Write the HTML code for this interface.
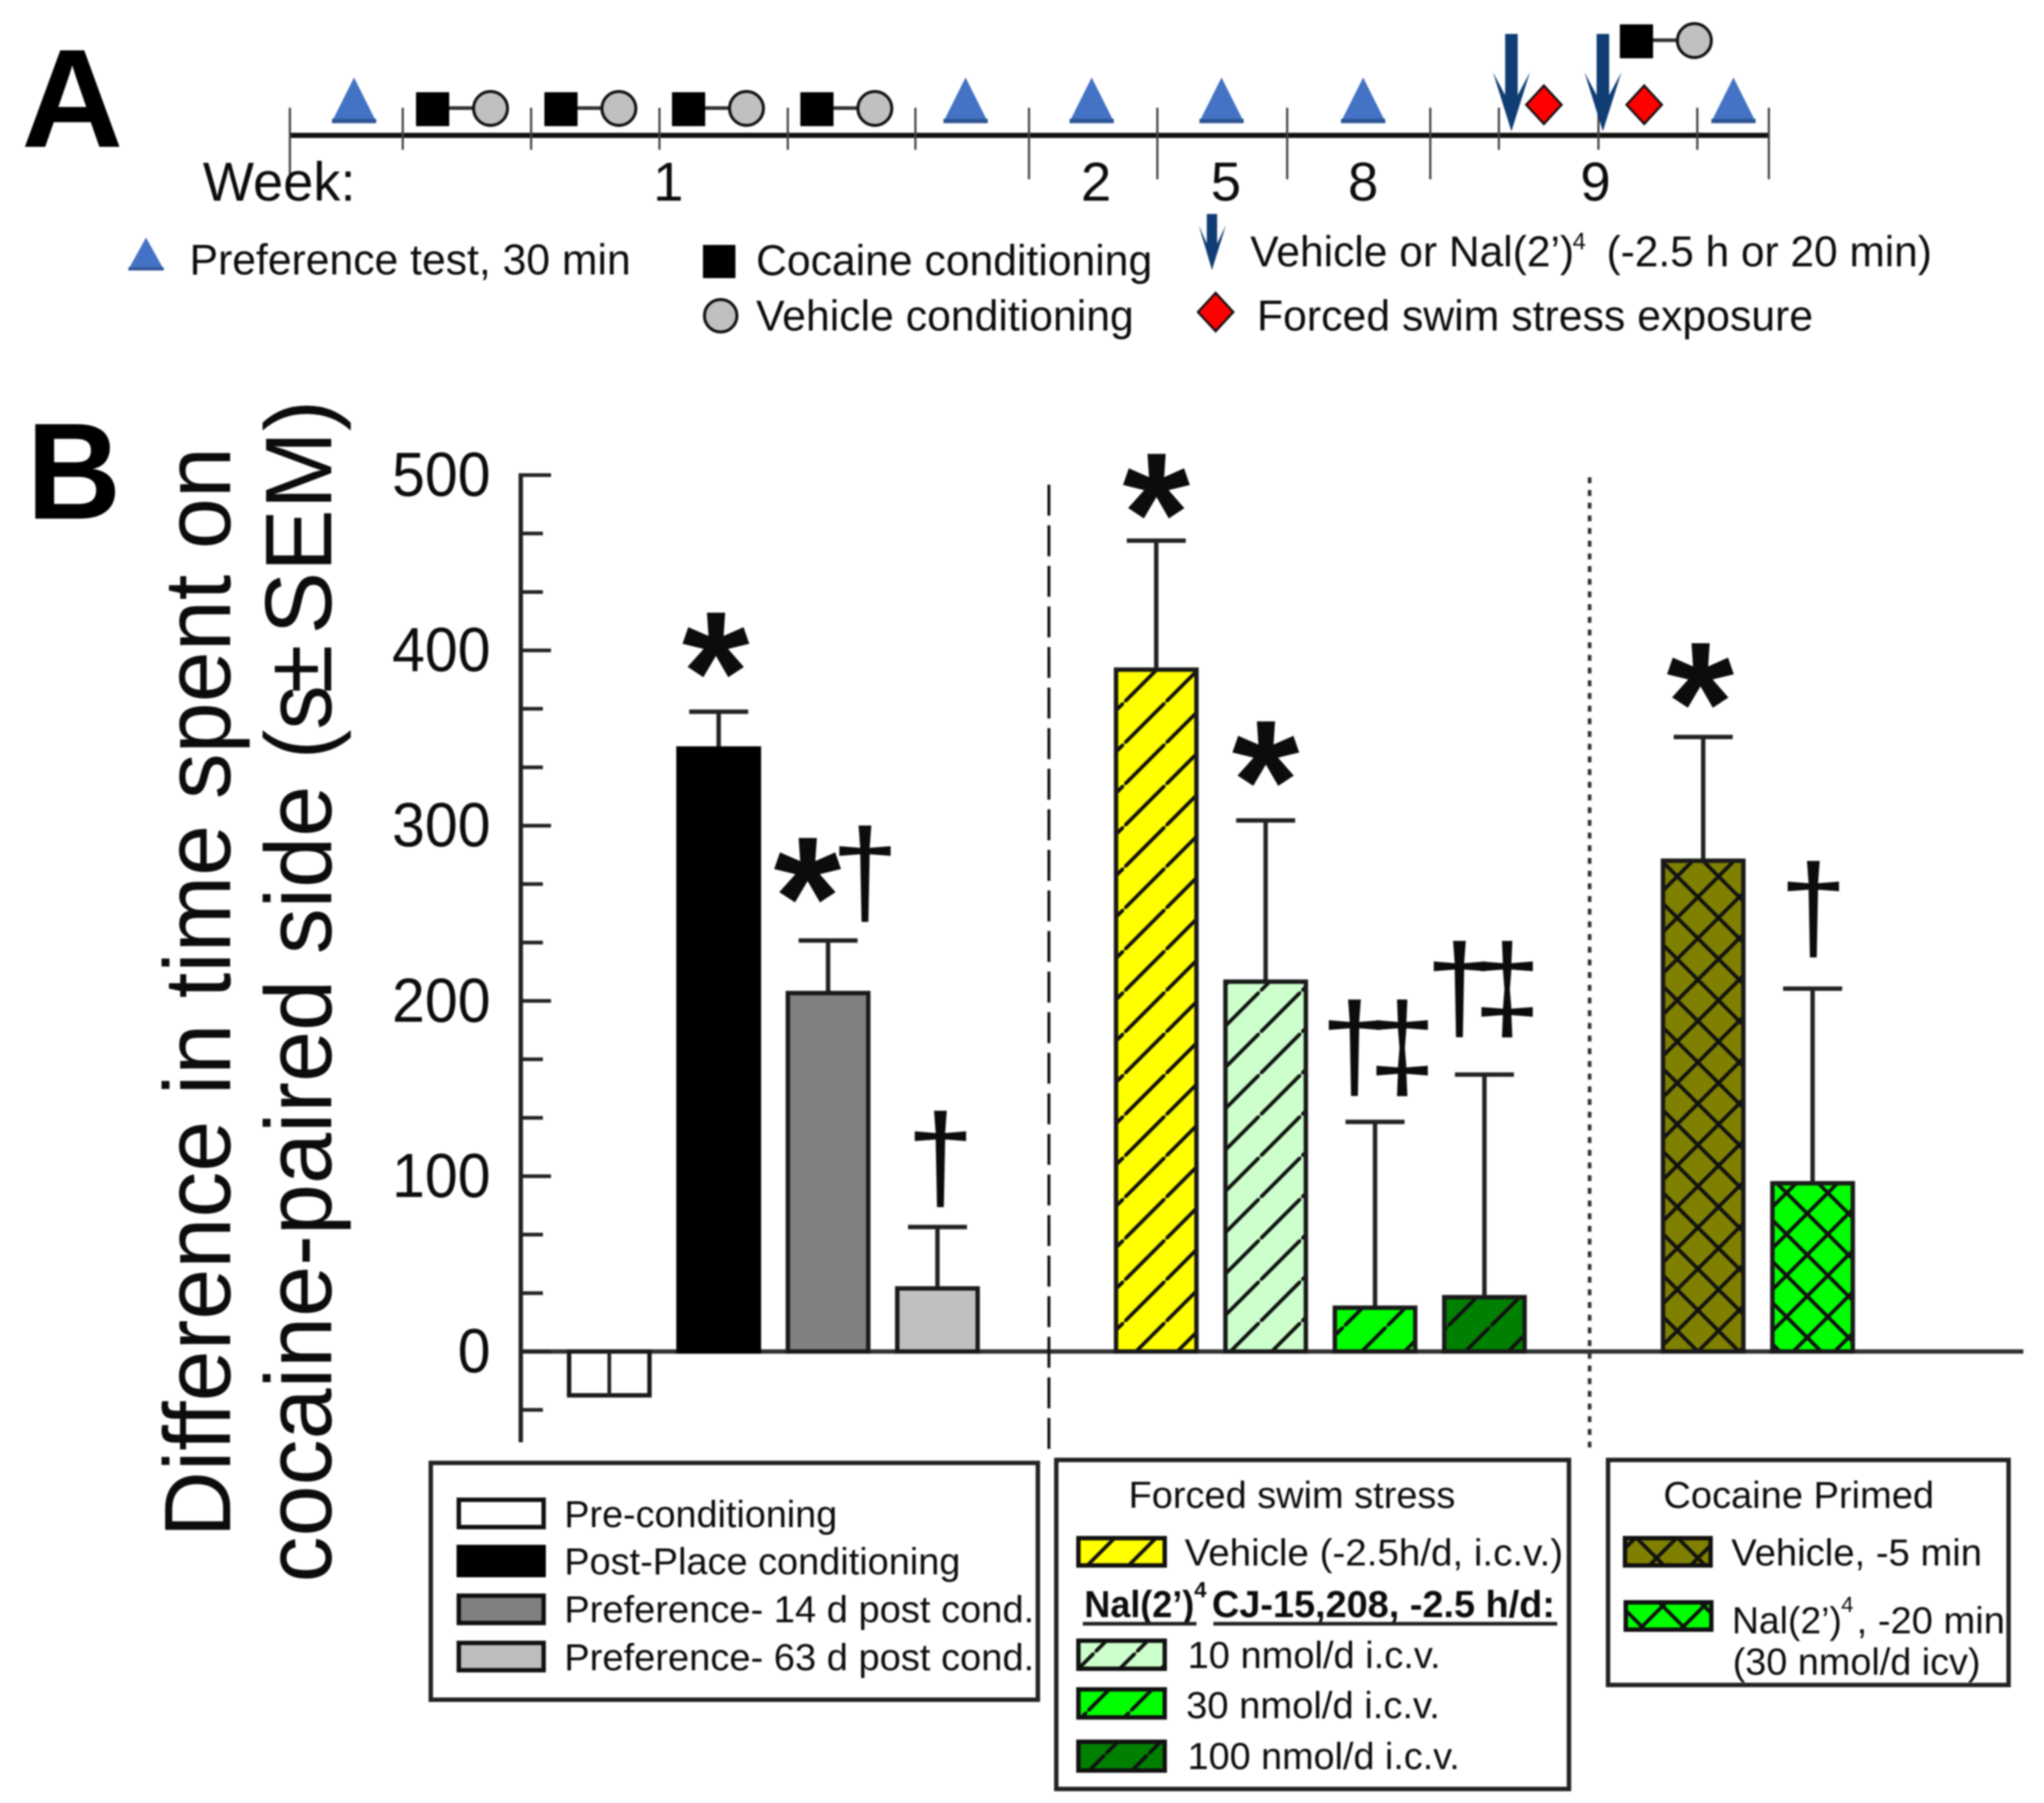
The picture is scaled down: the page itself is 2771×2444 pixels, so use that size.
<!DOCTYPE html>
<html lang="en">
<head>
<meta charset="utf-8">
<title>Cocaine place preference timeline and results</title>
<style>
html,body{margin:0;padding:0;background:#fff;width:2771px;height:2444px;overflow:hidden}
svg{display:block;filter:blur(1px)}
text{font-family:"Liberation Sans",sans-serif;fill:#0c0c0c}
</style>
</head>
<body>
<svg id="fig" xmlns="http://www.w3.org/2000/svg" width="2771" height="2444" viewBox="0 0 2771 2444">
<defs>
<pattern id="h-yellow" patternUnits="userSpaceOnUse" width="56" height="56" patternTransform="translate(12,0)"><rect width="56" height="56" fill="#FFFF00"/><path d="M-8,64L64,-8" stroke="#111" stroke-width="5"/></pattern>
<pattern id="h-light" patternUnits="userSpaceOnUse" width="56" height="56" patternTransform="translate(28,0)"><rect width="56" height="56" fill="#CCFFCC"/><path d="M-8,64L64,-8" stroke="#111" stroke-width="5"/></pattern>
<pattern id="h-green" patternUnits="userSpaceOnUse" width="58" height="58" patternTransform="translate(24,0)"><rect width="58" height="58" fill="#00FF00"/><path d="M-8,66L66,-8" stroke="#111" stroke-width="5"/></pattern>
<pattern id="h-dark" patternUnits="userSpaceOnUse" width="58" height="58" patternTransform="translate(48.5,0)"><rect width="58" height="58" fill="#008000"/><path d="M-8,66L66,-8" stroke="#111" stroke-width="5"/></pattern>
<pattern id="x-olive" patternUnits="userSpaceOnUse" width="56" height="56" patternTransform="translate(5.8,40)"><rect width="56" height="56" fill="#808000"/><path d="M-8,64L64,-8M-8,-8L64,64" stroke="#111" stroke-width="5"/></pattern>
<pattern id="x-bright" patternUnits="userSpaceOnUse" width="56" height="56" patternTransform="translate(42,21)"><rect width="56" height="56" fill="#00FF00"/><path d="M-8,64L64,-8M-8,-8L64,64" stroke="#111" stroke-width="5"/></pattern>
<g id="tri"><polygon points="0,0 30,60 -30,60" fill="#4472C4"/><rect x="-30" y="56" width="60" height="6" fill="#2F5597"/></g>
<g id="pair"><rect x="0" y="0" width="45" height="46" fill="#000"/><rect x="45" y="19" width="36" height="5" fill="#333"/><circle cx="101" cy="22" r="23" fill="#C0C0C0" stroke="#111" stroke-width="4"/></g>
<polygon id="arrow" points="-8.5,0 8.5,0 8.5,83 25,52 0,132 -25,52 -8.5,83" fill="#0F3D74"/>
<polygon id="diamond" points="0,-26 24,0 0,26 -24,0" fill="#FF0000" stroke="#111" stroke-width="3"/>
</defs>

<!-- PANEL A -->
<text x="29" y="199" font-size="190" font-weight="bold" textLength="138" lengthAdjust="spacingAndGlyphs" style="fill:#000">A</text>
<g>
<rect x="393" y="180" width="2005" height="7" fill="#111"/>
<path d="M393,146V243M1395,146V243M1569,146V243M1745,146V243M1939,146V243M2398,146V243M546,146V203M720,146V203M894,146V203M1068,146V203M1241,146V203M2032,146V203M2167,146V203M2301,146V203" stroke="#444" stroke-width="3" fill="none"/>
<use href="#tri" x="480" y="105"/>
<use href="#tri" x="1309" y="105"/>
<use href="#tri" x="1480" y="105"/>
<use href="#tri" x="1656" y="105"/>
<use href="#tri" x="1848" y="105"/>
<use href="#tri" x="2350" y="105"/>
<use href="#pair" x="564" y="125"/>
<use href="#pair" x="738" y="125"/>
<use href="#pair" x="911" y="125"/>
<use href="#pair" x="1085" y="125"/>
<use href="#pair" x="2196" y="33"/>
<use href="#arrow" x="2049" y="46"/>
<use href="#arrow" x="2173" y="46"/>
<use href="#diamond" x="2093" y="142"/>
<use href="#diamond" x="2229" y="142"/>
<text x="275" y="272" font-size="74" textLength="207" lengthAdjust="spacingAndGlyphs">Week:</text>
<text x="906" y="272" font-size="74" text-anchor="middle">1</text>
<text x="1486" y="272" font-size="74" text-anchor="middle">2</text>
<text x="1662" y="272" font-size="74" text-anchor="middle">5</text>
<text x="1848" y="272" font-size="74" text-anchor="middle">8</text>
<text x="2163" y="272" font-size="74" text-anchor="middle">9</text>
</g>
<g>
<g transform="translate(198,322) scale(.8,.72)"><use href="#tri"/></g>
<text x="257" y="372" font-size="58" textLength="598" lengthAdjust="spacingAndGlyphs">Preference test, 30 min</text>
<rect x="953" y="332" width="44" height="45" fill="#000"/>
<text x="1025" y="373" font-size="58" textLength="537" lengthAdjust="spacingAndGlyphs">Cocaine conditioning</text>
<circle cx="977" cy="428" r="22" fill="#C0C0C0" stroke="#111" stroke-width="4"/>
<text x="1025" y="448" font-size="58" textLength="512" lengthAdjust="spacingAndGlyphs">Vehicle conditioning</text>
<polygon points="1636,290 1650,290 1650,330 1662,305 1643,366 1625,305 1636,330" fill="#0F3D74"/>
<text x="1695" y="361" font-size="58" textLength="439" lengthAdjust="spacingAndGlyphs">Vehicle or Nal(2’)</text>
<text x="2132" y="338" font-size="32">4</text>
<text x="2178" y="361" font-size="58" textLength="441" lengthAdjust="spacingAndGlyphs">(-2.5 h or 20 min)</text>
<use href="#diamond" x="1648" y="423"/>
<text x="1704" y="448" font-size="58" textLength="754" lengthAdjust="spacingAndGlyphs">Forced swim stress exposure</text>
</g>

<!-- PANEL B -->
<text x="36" y="703" font-size="186" font-weight="bold" textLength="128" lengthAdjust="spacingAndGlyphs" style="fill:#000">B</text>
<text transform="translate(312,2084) rotate(-90)" font-size="128" textLength="1478" lengthAdjust="spacingAndGlyphs">Difference in time spent on</text>
<text transform="translate(449,2145) rotate(-90)" font-size="128" textLength="1080" lengthAdjust="spacingAndGlyphs">cocaine-paired side</text>
<text transform="translate(449,1029) rotate(-90)" font-size="128" textLength="100" lengthAdjust="spacingAndGlyphs">(s</text>
<text transform="translate(449,940) rotate(-90)" font-size="128" textLength="66" lengthAdjust="spacingAndGlyphs">±</text>
<text transform="translate(449,860) rotate(-90)" font-size="128" textLength="318" lengthAdjust="spacingAndGlyphs">SEM)</text>

<g id="axis-layer"></g>
<g id="bar-layer"></g>
<g id="note-layer"></g>

<line x1="1422" y1="657" x2="1422" y2="1975" stroke="#111" stroke-width="4" stroke-dasharray="42 13"/>
<line x1="2155" y1="647" x2="2155" y2="1962" stroke="#333" stroke-width="5" stroke-dasharray="8 9.2"/>

<!-- legends -->
<g>
<rect x="584" y="1983" width="823" height="321" fill="#fff" stroke="#222" stroke-width="6"/>
<rect x="622" y="2033" width="115" height="37" fill="#fff" stroke="#111" stroke-width="6"/>
<rect x="622" y="2097" width="115" height="38" fill="#000" stroke="#000" stroke-width="6"/>
<rect x="622" y="2163" width="115" height="37" fill="#808080" stroke="#111" stroke-width="6"/>
<rect x="622" y="2227" width="115" height="37" fill="#BDBDBD" stroke="#111" stroke-width="6"/>
<text x="765" y="2070" font-size="51" textLength="370" lengthAdjust="spacingAndGlyphs">Pre-conditioning</text>
<text x="765" y="2134" font-size="51" textLength="537" lengthAdjust="spacingAndGlyphs">Post-Place conditioning</text>
<text x="765" y="2199" font-size="51" textLength="637" lengthAdjust="spacingAndGlyphs">Preference- 14 d post cond.</text>
<text x="765" y="2264" font-size="51" textLength="637" lengthAdjust="spacingAndGlyphs">Preference- 63 d post cond.</text>
</g>
<g>
<rect x="1432" y="1979" width="695" height="446" fill="#fff" stroke="#222" stroke-width="6"/>
<text x="1530" y="2044" font-size="51" textLength="443" lengthAdjust="spacingAndGlyphs">Forced swim stress</text>
<rect x="1462" y="2085" width="117" height="37" fill="url(#h-yellow)" stroke="#111" stroke-width="6"/>
<text x="1606" y="2122" font-size="51" textLength="513" lengthAdjust="spacingAndGlyphs">Vehicle (-2.5h/d, i.c.v.)</text>
<text x="1470" y="2192" font-size="51" font-weight="bold" textLength="149" lengthAdjust="spacingAndGlyphs">Nal(2’)</text>
<text x="1619" y="2165" font-size="30" font-weight="bold">4</text>
<text x="1643" y="2192" font-size="51" font-weight="bold" textLength="465" lengthAdjust="spacingAndGlyphs">CJ-15,208, -2.5 h/d:</text>
<path d="M1468,2201H1622M1645,2201H2111" stroke="#222" stroke-width="5"/>
<rect x="1462" y="2224" width="117" height="38" fill="url(#h-light)" stroke="#111" stroke-width="6"/>
<text x="1610" y="2261" font-size="51" textLength="343" lengthAdjust="spacingAndGlyphs">10 nmol/d i.c.v.</text>
<rect x="1462" y="2290" width="117" height="38" fill="url(#h-green)" stroke="#111" stroke-width="6"/>
<text x="1608" y="2329" font-size="51" textLength="344" lengthAdjust="spacingAndGlyphs">30 nmol/d i.c.v.</text>
<rect x="1462" y="2361" width="117" height="39" fill="url(#h-dark)" stroke="#111" stroke-width="6"/>
<text x="1610" y="2398" font-size="51" textLength="369" lengthAdjust="spacingAndGlyphs">100 nmol/d i.c.v.</text>
</g>
<g>
<rect x="2180" y="1979" width="543" height="305" fill="#fff" stroke="#222" stroke-width="6"/>
<text x="2255" y="2044" font-size="51" textLength="367" lengthAdjust="spacingAndGlyphs">Cocaine Primed</text>
<rect x="2203" y="2085" width="116" height="37" fill="url(#x-olive)" stroke="#111" stroke-width="6"/>
<text x="2347" y="2122" font-size="51" textLength="340" lengthAdjust="spacingAndGlyphs">Vehicle, -5 min</text>
<rect x="2204" y="2172" width="116" height="37" fill="url(#x-bright)" stroke="#111" stroke-width="6"/>
<text x="2348" y="2214" font-size="51" textLength="149" lengthAdjust="spacingAndGlyphs">Nal(2’)</text>
<text x="2496" y="2185" font-size="30">4</text>
<text x="2517" y="2214" font-size="51" textLength="201" lengthAdjust="spacingAndGlyphs">, -20 min</text>
<text x="2349" y="2270" font-size="51" textLength="336" lengthAdjust="spacingAndGlyphs">(30 nmol/d icv)</text>
</g>
</svg>
<script>
const categories = ['Pre-conditioning','Post-Place conditioning','Preference 14 d','Preference 63 d','Vehicle','10 nmol/d','30 nmol/d','100 nmol/d','Cocaine vehicle','Nal 30 nmol/d'];
const slots = [0,1,2,3,5,6,7,8,10,11];
const means = [-25,344,204.5,36,389,211,25,31,280,96];
const sems = [25,21,30,35,73.6,92,106,127,70.6,111];
const fills = ['#fff','#000','#808080','#C0C0C0','url(#h-yellow)','url(#h-light)','url(#h-green)','url(#h-dark)','url(#x-olive)','url(#x-bright)'];
const marks = ['','*','*†','†','*','*','†‡','†‡','*','†'];
const markGaps = [0,20,22,11,13,20,14,20.5,17,17.5];
const majorTicks = [0,100,200,300,400,500];
const minorTicks = [-33.3,33.3,66.7,133.3,166.7,233.3,266.7,333.3,366.7,433.3,466.7];

const NS = 'http://www.w3.org/2000/svg';
const y = v => 1832 - v * 2.376;
const x = s => 826 + s * 148.3;
function mk(parent, tag, attrs, txt) {
  const el = document.createElementNS(NS, tag);
  for (const k in attrs) el.setAttribute(k, attrs[k]);
  if (txt !== undefined) el.textContent = txt;
  parent.appendChild(el);
  return el;
}
const axisLayer = document.getElementById('axis-layer');
const barLayer = document.getElementById('bar-layer');
const noteLayer = document.getElementById('note-layer');

const yLine = mk(axisLayer, 'line', {x1:706, x2:706, y1:y(500)-2.5, y2:1955, stroke:'#222', 'stroke-width':6});


const xLine = mk(axisLayer, 'line', {x1:706, x2:2743, y1:y(0), y2:y(0), stroke:'#333', 'stroke-width':6});



majorTicks.forEach(t => {
  const tick = mk(axisLayer, 'line', {x1:706, x2:747, y1:y(t), y2:y(t), stroke:'#222', 'stroke-width':5});
  
  
  const s = String(t);
  const label = mk(axisLayer, 'text', {x:665, y:y(t)+28, 'font-size':84, 'text-anchor':'end', textLength:s.length*44.5, lengthAdjust:'spacingAndGlyphs'}, s);
  
  
});
minorTicks.forEach(t => {
  const tick = mk(axisLayer, 'line', {x1:706, x2:736, y1:y(t), y2:y(t), stroke:'#222', 'stroke-width':5});
  
  
});

categories.forEach((c, i) => {
  const cx = x(slots[i]);
  const top = means[i] + sems[i];
  const errLine = mk(barLayer, 'line', {x1:cx, x2:cx, y1:y(means[i]), y2:y(top), stroke:'#222', 'stroke-width':6});
  
  
  const errCap = mk(barLayer, 'line', {x1:cx-40, x2:cx+40, y1:y(top), y2:y(top), stroke:'#222', 'stroke-width':6});
  
  
  const y0 = Math.min(y(0), y(means[i]));
  const h = Math.abs(y(0) - y(means[i]));
  const bar = mk(barLayer, 'rect', {x:cx-54.5, y:y0, width:109, height:h, fill:fills[i], stroke:i===1?'#000':'#1a1a1a', 'stroke-width':6});
  
  
  if (means[i] < 0) {
    const inner = mk(barLayer, 'line', {x1:cx, x2:cx, y1:y(means[i]), y2:y(top), stroke:'#222', 'stroke-width':5});
    
    
  }
  const bottom = y(top + markGaps[i]);
  const sym = marks[i];
  if (sym === '*') {
    const star = mk(noteLayer, 'text', {x:cx+(i===1?-4:0)+(i===8?-4:0), y:bottom+75, 'font-size':235, 'font-weight':'bold', 'text-anchor':'middle'}, '*');
    
    
  } else if (sym === '†') {
    const dag = mk(noteLayer, 'text', {x:cx+(i===9?1:4), y:bottom-12, 'font-size':165, 'text-anchor':'middle'}, '†');
    
    
  } else if (sym === '*†') {
    const star2 = mk(noteLayer, 'text', {x:cx-28, y:bottom+75, 'font-size':235, 'font-weight':'bold', 'text-anchor':'middle'}, '*');
    
    
    const dag2 = mk(noteLayer, 'text', {x:cx+50, y:bottom+16, 'font-size':165, 'text-anchor':'middle'}, '†');
    
    
  } else if (sym === '†‡') {
    const dd = mk(noteLayer, 'text', {x:cx+(i===6?-9:-15), y:bottom-13, 'font-size':165, 'text-anchor':'middle', 'letter-spacing':-27}, '†‡');
    
    
  }
});
</script>
</body>
</html>
